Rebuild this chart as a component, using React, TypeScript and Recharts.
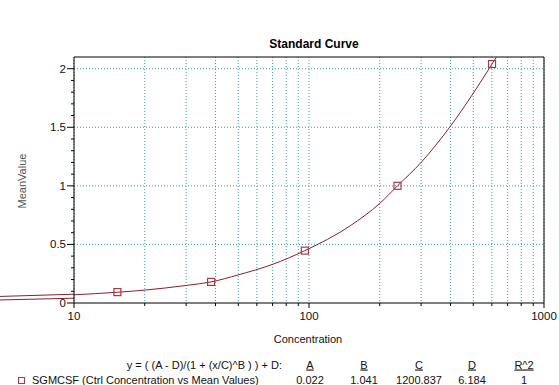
import React from "react";
import {
  ComposedChart,
  Line,
  Scatter,
  XAxis,
  YAxis,
  CartesianGrid,
  ReferenceLine,
} from "recharts";

// fitted curve
const curveX = [10, 15.3, 20, 30, 38.3, 50, 70, 96, 150, 200, 238, 300, 400, 500, 601, 628];
const curveY = [0.07, 0.092, 0.11, 0.15, 0.18, 0.24, 0.33, 0.447, 0.66, 0.85, 1.0, 1.2, 1.51, 1.79, 2.04, 2.1];

// measured standards
const pointX = [15.3, 38.3, 96, 238, 601];
const pointY = [0.093, 0.18, 0.447, 1.0, 2.04];

// the two stubs that run left of the plot
const stubX = [4.84, 10];
const stubUpperY = [0.056, 0.075];
const stubLowerY = [0.026, 0.041];

const xTicks = [10, 20, 30, 40, 50, 60, 70, 80, 90, 100, 200, 300, 400, 500, 600, 700, 800, 900, 1000];
const xLabelled = [10, 100, 1000];
const yTicks = [0, 0.1, 0.2, 0.3, 0.4, 0.5, 0.6, 0.7, 0.8, 0.9, 1, 1.1, 1.2, 1.3, 1.4, 1.5, 1.6, 1.7, 1.8, 1.9, 2];
const yGrid = [0.5, 1, 1.5, 2];

const paramNames = ["A", "B", "C", "D", "R^2"];
const paramValues = ["0.022", "1.041", "1200.837", "6.184", "1"];
const paramCenters = [310, 364, 419, 472, 524];

const curve = curveX.map((x, i) => ({ x, y: curveY[i] }));
const points = pointX.map((x, i) => ({ x, y: pointY[i] }));

const FONT = "'Liberation Sans', Arial, sans-serif";
const GRID = "#3d9db3";
const LINE = "#86202e";
const MARK = "#a8394a";

const XTick = (props: any) => {
  const { x, y, payload } = props;
  const major = xLabelled.includes(payload.value);
  return (
    <g>
      <line x1={x} y1={y} x2={x} y2={y + (major ? 5 : 3)} stroke="#000" />
      {major && (
        <text x={x} y={y + 17} textAnchor="middle" fontSize={11.5} fontFamily={FONT} fill="#111">
          {payload.value}
        </text>
      )}
    </g>
  );
};

const YTick = (props: any) => {
  const { x, y, payload } = props;
  const v = payload.value;
  const major = Math.abs(v * 2 - Math.round(v * 2)) < 1e-6;
  return (
    <g>
      <line x1={x - (major ? 7 : 3)} y1={y} x2={x} y2={y} stroke="#000" />
      {major && (
        <text x={x - 8} y={y + 4} textAnchor="end" fontSize={11.5} fontFamily={FONT} fill="#111">
          {v}
        </text>
      )}
    </g>
  );
};

const Square = (props: any) => {
  const { cx, cy } = props;
  return <rect x={cx - 3.5} y={cy - 3.5} width={7} height={7} fill="none" stroke={MARK} strokeWidth={1.2} />;
};

export default function App() {
  return (
    <div style={{ position: "absolute", left: 0, top: 0, width: 559, height: 385, background: "#fff" }}>
      <ComposedChart width={559} height={385} margin={{ top: 57, right: 15, bottom: 52, left: 24 }}>
        <CartesianGrid
          horizontalValues={yGrid}
          verticalValues={xTicks}
          stroke={GRID}
          strokeDasharray="1 2"
        />
        <XAxis
          dataKey="x"
          type="number"
          scale="log"
          domain={[10, 1000]}
          ticks={xTicks}
          interval={0}
          tick={<XTick />}
          tickLine={false}
          tickSize={0}
          tickMargin={0}
          height={30}
          axisLine={{ stroke: "#000" }}
        />
        <YAxis
          dataKey="y"
          type="number"
          domain={[0, 2.1]}
          ticks={yTicks}
          interval={0}
          tick={<YTick />}
          tickLine={false}
          tickSize={0}
          tickMargin={0}
          width={50}
          axisLine={{ stroke: "#000" }}
        />
        <ReferenceLine y={2.1} stroke="#000" />
        <ReferenceLine x={1000} stroke="#000" />
        <ReferenceLine
          segment={[{ x: stubX[0], y: stubUpperY[0] }, { x: stubX[1], y: stubUpperY[1] }]}
          ifOverflow="visible"
          stroke={LINE}
        />
        <ReferenceLine
          segment={[{ x: stubX[0], y: stubLowerY[0] }, { x: stubX[1], y: stubLowerY[1] }]}
          ifOverflow="visible"
          stroke={LINE}
        />
        <Line
          data={curve}
          dataKey="y"
          type="monotone"
          stroke={LINE}
          strokeWidth={1}
          dot={false}
          isAnimationActive={false}
        />
        <Scatter data={points} dataKey="y" shape={<Square />} isAnimationActive={false} />
      </ComposedChart>
      <svg
        width={559}
        height={385}
        style={{ position: "absolute", left: 0, top: 0, pointerEvents: "none" }}
        fontFamily={FONT}
      >
        <text x={314} y={48} textAnchor="middle" fontSize={12} fontWeight="bold" fill="#000">
          Standard Curve
        </text>
        <text
          x={0}
          y={0}
          transform="translate(26 181) rotate(-90)"
          textAnchor="middle"
          fontSize={11}
          fill="#555"
        >
          MeanValue
        </text>
        <text x={308} y={343} textAnchor="middle" fontSize={11} fill="#111">
          Concentration
        </text>
        <text x={282} y={368.5} textAnchor="end" fontSize={11} fill="#111">
          y = ( (A - D)/(1 + (x/C)^B ) ) + D:
        </text>
        {paramNames.map((n, i) => (
          <text
            key={n}
            x={paramCenters[i]}
            y={368.5}
            textAnchor="middle"
            fontSize={11}
            fill="#111"
            textDecoration="underline"
          >
            {n}
          </text>
        ))}
        <rect x={18.5} y={377.5} width={6} height={6} fill="none" stroke={MARK} />
        <text x={32} y={384} fontSize={11} fill="#111">
          SGMCSF (Ctrl Concentration vs Mean Values)
        </text>
        {paramValues.map((v, i) => (
          <text key={i} x={paramCenters[i]} y={384} textAnchor="middle" fontSize={11} fill="#111">
            {v}
          </text>
        ))}
      </svg>
    </div>
  );
}
